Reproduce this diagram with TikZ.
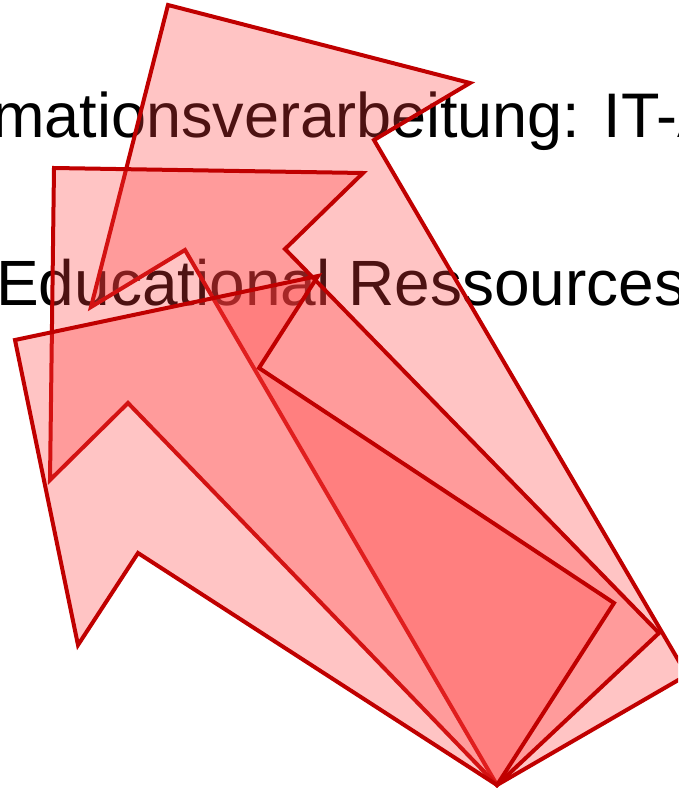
\documentclass[tikz,border=0pt]{standalone}
\usepackage{fontspec}
\setmainfont{Liberation Sans}
\definecolor{arrowline}{RGB}{192,0,0}
\definecolor{arrowfill}{RGB}{255,60,60}
\begin{document}
\begin{tikzpicture}[x=1pt,y=-1pt,
  arrowshape/.style={draw=arrowline, line width=4pt, line join=miter, fill=arrowfill, fill opacity=0.3},
  bigtext/.style={anchor=base west, inner sep=0pt, font=\fontsize{63}{76}\selectfont},
  bigtextb/.style={bigtext, font=\fontsize{64}{76}\selectfont}]
\useasboundingbox (0,0) rectangle (678,789);
\clip (0,0) rectangle (678,789);
\node[bigtext] (t1) at (-8,138) {mationsverarbeitung: IT-A};
\node[bigtextb] (t2) at (-4,305) {Educational Ressources};
% arrow A
\draw[arrowshape] (168,5) -- (470,83) -- (374,140) -- (687,675) -- (497,785) -- (185,250) -- (91,307) -- cycle;
% arrow B
\draw[arrowshape] (54,168) -- (363,173) -- (285,249) -- (659,633) -- (497,785) -- (128,403) -- (50,480) -- cycle;
% arrow C
\draw[arrowshape] (15,340) -- (318,276) -- (259,368) -- (614,603) -- (497,785) -- (138,553) -- (78,645) -- cycle;
\end{tikzpicture}
\end{document}
